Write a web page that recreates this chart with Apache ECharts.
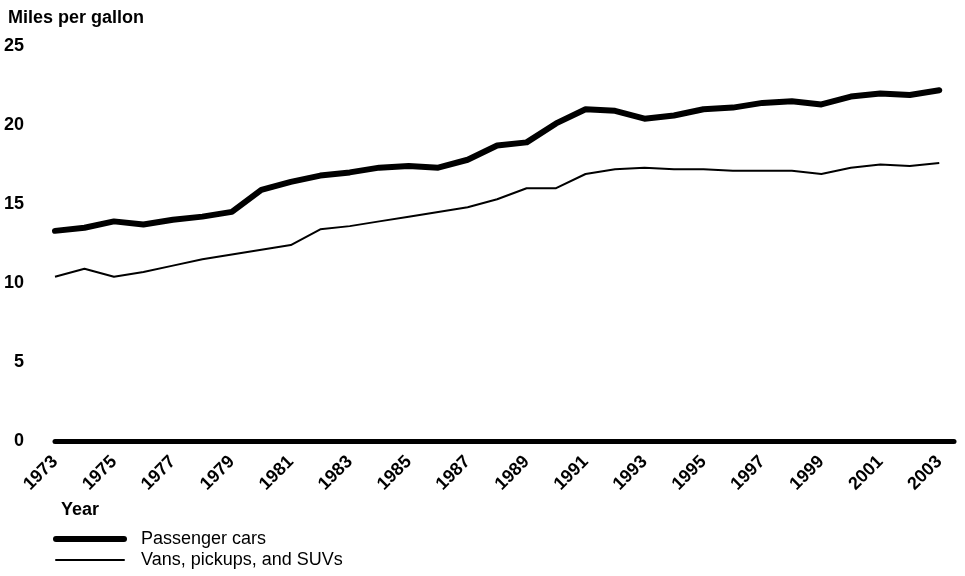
<!DOCTYPE html>
<html>
<head>
<meta charset="utf-8">
<script src="https://cdn.jsdelivr.net/npm/echarts@6/dist/echarts.min.js"></script>
<style>
  html, body { margin: 0; padding: 0; background: #fff; }
  #chart { width: 965px; height: 576px; }
</style>
</head>
<body>
<div id="chart"></div>
<script>
// model years
const years = [1973, 1974, 1975, 1976, 1977, 1978, 1979, 1980, 1981, 1982,
  1983, 1984, 1985, 1986, 1987, 1988, 1989, 1990, 1991, 1992,
  1993, 1994, 1995, 1996, 1997, 1998, 1999, 2000, 2001, 2002, 2003];
// miles per gallon
const passengerCars = [13.3, 13.5, 13.9, 13.7, 14.0, 14.2, 14.5, 15.9, 16.4, 16.8,
  17.0, 17.3, 17.4, 17.3, 17.8, 18.7, 18.9, 20.1, 21.0, 20.9,
  20.4, 20.6, 21.0, 21.1, 21.4, 21.5, 21.3, 21.8, 22.0, 21.9, 22.2];
const vansPickupsSuvs = [10.4, 10.9, 10.4, 10.7, 11.1, 11.5, 11.8, 12.1, 12.4, 13.4,
  13.6, 13.9, 14.2, 14.5, 14.8, 15.3, 16.0, 16.0, 16.9, 17.2,
  17.3, 17.2, 17.2, 17.1, 17.1, 17.1, 16.9, 17.3, 17.5, 17.4, 17.6];
const seriesNames = ['Passenger cars', 'Vans, pickups, and SUVs'];

const font = "'Liberation Sans', Arial, Helvetica, sans-serif";
const chart = echarts.init(document.getElementById('chart'));

const toPairs = (vals) => vals.map((v, i) => [years[i], v]);

chart.setOption({
  animation: false,
  backgroundColor: '#fff',
  textStyle: { fontFamily: font, color: '#000' },
  title: [
    {
      text: 'Miles per gallon',
      left: 3, top: 4,
      textStyle: { fontSize: 18, fontWeight: 'bold', color: '#000', fontFamily: font }
    },
    {
      text: 'Year',
      left: 56, top: 496,
      textStyle: { fontSize: 18, fontWeight: 'bold', color: '#000', fontFamily: font }
    }
  ],
  legend: {
    orient: 'vertical',
    left: 53, top: 530,
    padding: 0,
    itemWidth: 68, itemHeight: 14, itemGap: 3,
    data: seriesNames,
    itemStyle: { opacity: 0 },
    lineStyle: { width: 'inherit', cap: 'round' },
    textStyle: { fontSize: 18, color: '#000', fontFamily: font, lineHeight: 18, padding: [0, 0, 0, 12] }
  },
  grid: { left: 55, right: 11, top: 46, bottom: 135, outerBoundsMode: 'none' },
  xAxis: {
    type: 'value',
    min: 1973, max: 2003.5, interval: 2,
    axisLine: { show: true, lineStyle: { color: '#000', width: 5 } },
    axisTick: { show: false },
    splitLine: { show: false },
    axisLabel: {
      rotate: 45, margin: 18,
      fontSize: 18, fontWeight: 'bold', color: '#000', fontFamily: font,
      showMaxLabel: false,
      formatter: (v) => (Number.isInteger(v) ? String(v) : '')
    }
  },
  yAxis: {
    type: 'value',
    min: 0, max: 25, interval: 5,
    axisLine: { show: false },
    axisTick: { show: false },
    splitLine: { show: false },
    axisLabel: { margin: 31, fontSize: 18, fontWeight: 'bold', color: '#000', fontFamily: font }
  },
  series: [
    {
      name: seriesNames[0], type: 'line', data: toPairs(passengerCars),
      symbol: 'none', z: 3,
      lineStyle: { color: '#000', width: 6, cap: 'round', join: 'round' },
      itemStyle: { color: '#000' }
    },
    {
      name: seriesNames[1], type: 'line', data: toPairs(vansPickupsSuvs),
      symbol: 'none', z: 2,
      lineStyle: { color: '#000', width: 2, join: 'round' },
      itemStyle: { color: '#000' }
    }
  ]
});
</script>
</body>
</html>
